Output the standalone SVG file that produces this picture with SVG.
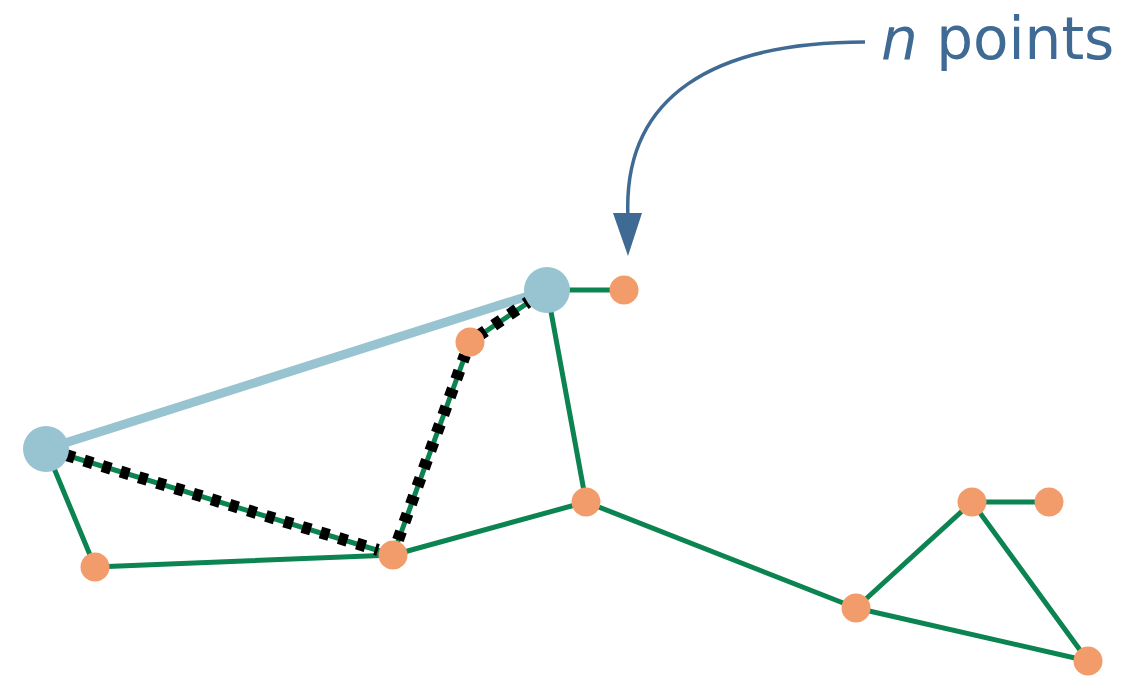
<svg xmlns="http://www.w3.org/2000/svg" width="1145" height="676" viewBox="0 0 1145 676">
<style>
.e{stroke:#0b8451;stroke-width:5;fill:none;stroke-linecap:round}
.d{stroke:#000;stroke-width:12;stroke-dasharray:9 10;fill:none}
.hull{stroke:#98c3d0;stroke-width:9;fill:none}
.big{fill:#98c3d0}
.pt{fill:#f39c6b}
.lbl{font-family:"DejaVu Sans",sans-serif;font-size:58px;fill:#3f6a93}
</style>
<rect width="1145" height="676" fill="#fff"/>
<g id="connectors">
<line class="hull" x1="46" y1="449" x2="547" y2="290"/>
<line class="e" x1="547" y1="290" x2="624" y2="290"/>
<line class="e" x1="547" y1="290" x2="586" y2="502"/>
<line class="e" x1="46" y1="449" x2="95" y2="567"/>
<line class="e" x1="95" y1="567" x2="393" y2="555"/>
<line class="e" x1="393" y1="555" x2="586" y2="502"/>
<line class="e" x1="586" y1="502" x2="856" y2="608"/>
<line class="e" x1="856" y1="608" x2="972" y2="502"/>
<line class="e" x1="972" y1="502" x2="1049" y2="502"/>
<line class="e" x1="972" y1="502" x2="1088" y2="661"/>
<line class="e" x1="856" y1="608" x2="1088" y2="661"/>
<line class="e" x1="46" y1="449" x2="393" y2="555"/>
<line class="e" x1="393" y1="555" x2="470" y2="342"/>
<line class="e" x1="470" y1="342" x2="547" y2="290"/>
<line class="d" x1="66" y1="455" x2="378" y2="550"/>
<line class="d" x1="398" y1="540" x2="465" y2="355"/>
<line class="d" x1="478" y1="336" x2="528" y2="302"/>
<path d="M865,42 C715,42 622,95 628,218" stroke="#3f6a93" stroke-width="3.5" fill="none"/>
<polygon points="613,213 642,213 628,256" fill="#3f6a93"/>
</g>
<g id="nA"><circle class="big" cx="46" cy="449" r="23"/></g>
<g id="nB"><circle class="big" cx="547" cy="290" r="23"/></g>
<g id="p1"><circle class="pt" cx="624" cy="290" r="14.5"/></g>
<g id="p2"><circle class="pt" cx="470" cy="342" r="14.5"/></g>
<g id="p3"><circle class="pt" cx="95" cy="567" r="14.5"/></g>
<g id="p4"><circle class="pt" cx="393" cy="555" r="14.5"/></g>
<g id="p5"><circle class="pt" cx="586" cy="502" r="14.5"/></g>
<g id="p6"><circle class="pt" cx="856" cy="608" r="14.5"/></g>
<g id="p7"><circle class="pt" cx="972" cy="502" r="14.5"/></g>
<g id="p8"><circle class="pt" cx="1049" cy="502" r="14.5"/></g>
<g id="p9"><circle class="pt" cx="1088" cy="661" r="14.5"/></g>
<g id="label"><text class="lbl" x="881" y="59"><tspan font-style="italic">n</tspan> points</text></g>
</svg>
